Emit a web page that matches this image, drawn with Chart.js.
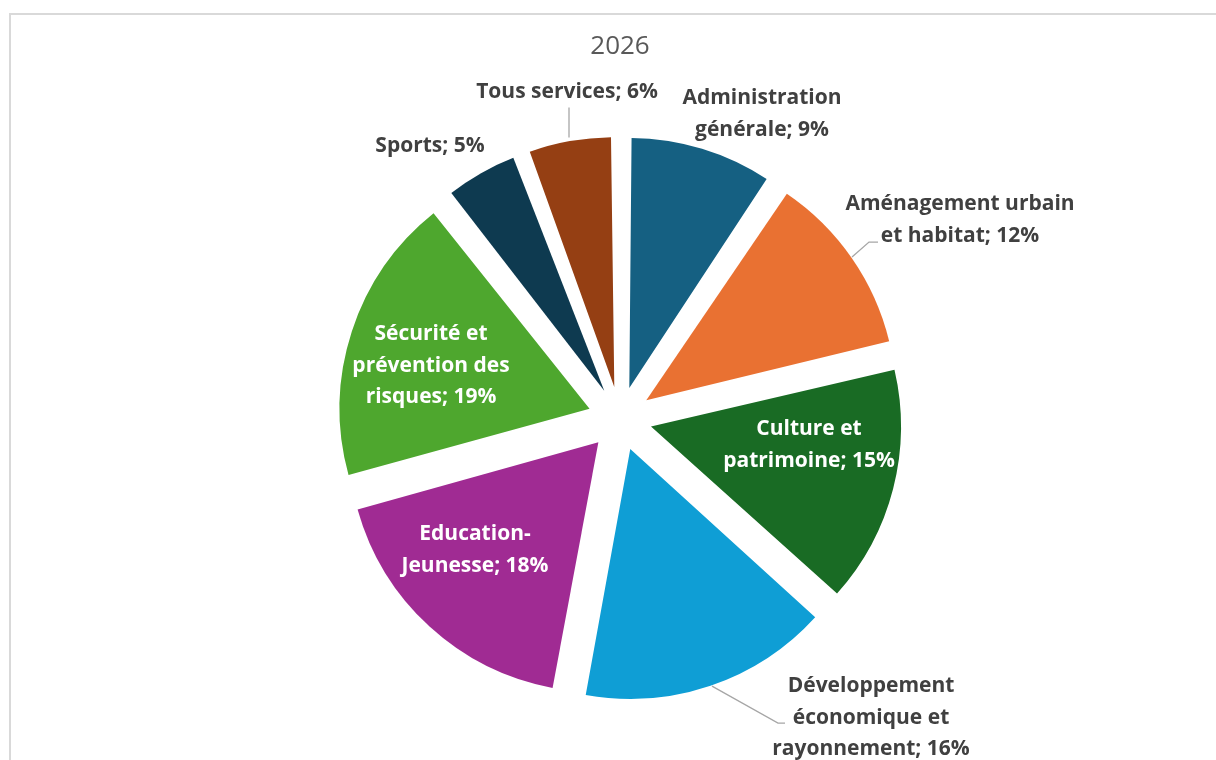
<!DOCTYPE html>
<html lang="fr">
<head>
<meta charset="utf-8">
<title>2026</title>
<script src="https://cdn.jsdelivr.net/npm/chart.js@4.4.1/dist/chart.umd.min.js"></script>
<style>
  html, body { margin: 0; padding: 0; background: #ffffff; overflow: hidden; }
  #wrap { width: 1216px; height: 760px; }
</style>
</head>
<body>
<div id="wrap"><canvas id="c" width="1216" height="760"></canvas></div>
<script>
// ---- Data ----
const chartTitle = '2026';
const categories = [
  'Administration générale',
  'Aménagement urbain et habitat',
  'Culture et patrimoine',
  'Développement économique et rayonnement',
  'Education-Jeunesse',
  'Sécurité et prévention des risques',
  'Sports',
  'Tous services'
];
// shares (%); labels show the rounded percentage
const shares = [9.4, 11.9, 15.4, 16.2, 17.8, 18.6, 5.0, 5.7];
const sliceColors = ['#156082', '#E97132', '#196B24', '#0F9ED5', '#A02B93', '#4EA72E', '#0E3A50', '#953F13'];
// category names broken into display lines (the percentage is appended to the last line)
const labelLineBreaks = [
  ['Administration', 'générale'],
  ['Aménagement urbain', 'et habitat'],
  ['Culture et', 'patrimoine'],
  ['Développement', 'économique et', 'rayonnement'],
  ['Education-', 'Jeunesse'],
  ['Sécurité et', 'prévention des', 'risques'],
  ['Sports'],
  ['Tous services']
];

// ---- Layout / style (relative to pie centre) ----
const PIE_RADIUS = 250;
const EXPLODE_PX = 32;            // visual displacement of each slice
const LINE_H = 31.5;
const labelLayout = [
  { dx: 142, dy: -320.5, inside: false },
  { dx: 340, dy: -214.5, inside: false, leader: [[258, -176.5], [249, -176.5], [232, -161.5]] },
  { dx: 189, dy: 10.5, inside: true },
  { dx: 251, dy: 267.5, inside: false, leader: [[165, 304.5], [158, 304.5], [92, 267.5]] },
  { dx: -145, dy: 115.5, inside: true },
  { dx: -189, dy: -84.5, inside: true },
  { dx: -190, dy: -272.5, inside: false },
  { dx: -53, dy: -326.5, inside: false, leader: [[-51, -311], [-51, -281]] }
];

const framePlugin = {
  id: 'frame',
  beforeDraw(chart) {
    const ctx = chart.ctx;
    ctx.save();
    ctx.strokeStyle = '#d9d9d9';
    ctx.lineWidth = 2;
    ctx.beginPath();
    ctx.moveTo(10, 800);
    ctx.lineTo(10, 14);
    ctx.lineTo(1300, 14);
    ctx.stroke();
    ctx.restore();
  }
};

// Chart.js enlarges the radius of narrow exploded arcs; keep every slice at the same radius
const radiusFixPlugin = {
  id: 'radiusFix',
  beforeDatasetsDraw(chart) {
    const meta = chart.getDatasetMeta(0);
    meta.data.forEach((el) => {
      const off = (el.options.offset || 0) / 4;
      const fix = 1 - Math.sin(Math.min(Math.PI, el.circumference || 0));
      el.outerRadius = PIE_RADIUS - off * fix;
    });
  }
};

const labelPlugin = {
  id: 'sliceLabels',
  afterDatasetsDraw(chart) {
    const ctx = chart.ctx;
    const meta = chart.getDatasetMeta(0);
    const cx = meta.data[0].x, cy = meta.data[0].y;
    const values = chart.data.datasets[0].data;
    const total = values.reduce((a, b) => a + b, 0);
    ctx.save();
    labelLayout.forEach((L, i) => {
      if (L.leader) {
        ctx.strokeStyle = '#a6a6a6';
        ctx.lineWidth = 1.3;
        ctx.beginPath();
        L.leader.forEach((p, k) => {
          if (k === 0) ctx.moveTo(cx + p[0], cy + p[1]);
          else ctx.lineTo(cx + p[0], cy + p[1]);
        });
        ctx.stroke();
      }
      const pct = Math.round(values[i] / total * 100);
      const lines = labelLineBreaks[i].slice();
      lines[lines.length - 1] = lines[lines.length - 1] + '; ' + pct + '%';
      ctx.font = 'bold 21px "Open Sans", "Noto Sans", sans-serif';
      ctx.fillStyle = L.inside ? '#ffffff' : '#404040';
      ctx.textAlign = 'center';
      ctx.textBaseline = 'middle';
      lines.forEach((t, k) => {
        ctx.fillText(t, cx + L.dx, cy + L.dy + k * LINE_H);
      });
    });
    ctx.restore();
  }
};

new Chart(document.getElementById('c'), {
  type: 'pie',
  data: {
    labels: categories,
    datasets: [{
      data: shares,
      backgroundColor: sliceColors,
      borderWidth: 0,
      offset: EXPLODE_PX * 4,
      hoverOffset: 0
    }]
  },
  options: {
    responsive: false,
    animation: false,
    events: [],
    radius: PIE_RADIUS,
    layout: { padding: { left: 24, right: 0, top: 0, bottom: 0 } },
    plugins: {
      legend: { display: false },
      tooltip: { enabled: false },
      title: {
        display: true,
        text: chartTitle,
        color: '#595959',
        font: { family: '"Open Sans", "Noto Sans", sans-serif', size: 26, weight: 'normal', lineHeight: 1.2 },
        padding: { top: 31, bottom: 15 }
      }
    }
  },
  plugins: [framePlugin, radiusFixPlugin, labelPlugin]
});
</script>
</body>
</html>
